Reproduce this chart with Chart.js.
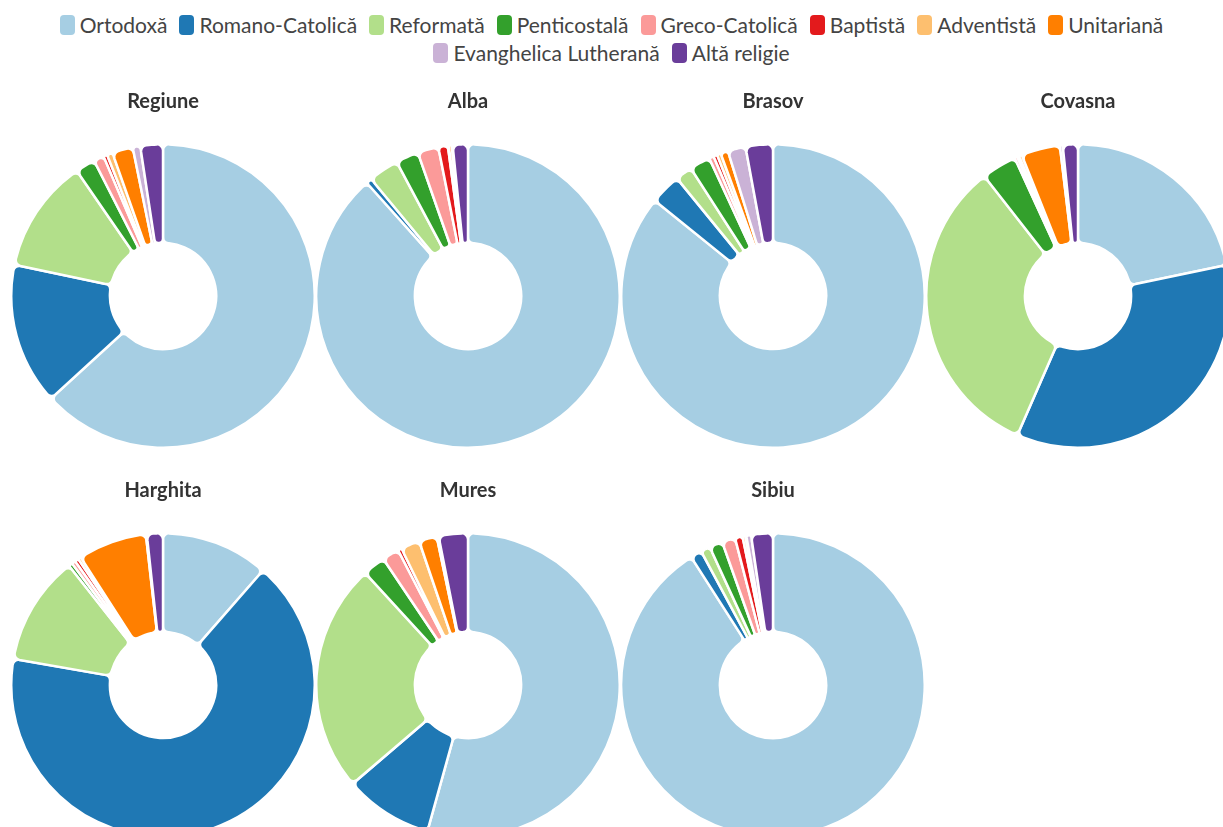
<!DOCTYPE html>
<html><head><meta charset="utf-8">
<script src="https://cdn.jsdelivr.net/npm/chart.js@4.4.1/dist/chart.umd.min.js"></script>
<style>
html,body{margin:0;padding:0;background:#fff;overflow:hidden;width:1223px;height:827px;}
#wrap{position:relative;width:1223px;height:827px;overflow:hidden;}
.legend-row{position:absolute;left:0;width:1223px;display:flex;justify-content:center;font-family:Lato,sans-serif;font-size:21px;color:#444;line-height:24px;}
.item{display:flex;align-items:center;margin:0 6px;white-space:nowrap;}
.box{width:15px;height:20px;border-radius:4px;margin-right:5px;display:inline-block;}
.cv{position:absolute;}
</style></head><body><div id="wrap"></div>
<script>
const religions = ['Ortodoxă','Romano-Catolică','Reformată','Penticostală','Greco-Catolică','Baptistă','Adventistă','Unitariană','Evanghelica Lutherană','Altă religie'];
const colors = ['#a6cee3','#1f78b4','#b2df8a','#33a02c','#fb9a99','#e31a1c','#fdbf6f','#ff7f00','#cab2d6','#6a3d9a'];
const regionNames = ['Regiune','Alba','Brasov','Covasna','Harghita','Mures','Sibiu'];

const regiune  = [63.2, 15.1, 12.1, 2.1, 1.1, 0.4, 0.6, 2.2, 0.8, 2.4];
const alba     = [87.5, 0.6, 3.2, 2.4, 2.2, 1.0, 0.1, 0.3, 0.1, 1.6];
const brasov   = [85.8, 3.3, 1.8, 2.2, 0.5, 0.4, 0.4, 0.8, 1.9, 2.9];
const covasna  = [21.6, 34.6, 32.7, 3.7, 0.3, 0.2, 0.3, 4.1, 0.3, 1.6];
const harghita = [11.4, 66.2, 11.6, 0.4, 0.4, 0.4, 0.3, 7.3, 0.1, 1.7];
const mures    = [54.2, 9.4, 24.4, 2.4, 1.8, 0.4, 2.0, 1.9, 0.2, 3.1];
const sibiu    = [90.4, 1.2, 1.0, 1.4, 1.4, 0.8, 0.3, 0.1, 0.5, 2.3];

const regionValues = [regiune, alba, brasov, covasna, harghita, mures, sibiu];

const wrap = document.getElementById('wrap');

// Legend (two rows)
const legendRows = [[0,8],[8,10]];
const legendTops = [13, 41];
legendRows.forEach((r, ri) => {
  const row = document.createElement('div');
  row.className = 'legend-row';
  row.style.top = legendTops[ri] + 'px';
  for (let i = r[0]; i < r[1]; i++) {
    const it = document.createElement('span');
    it.className = 'item';
    const b = document.createElement('span');
    b.className = 'box';
    b.style.background = colors[i];
    it.appendChild(b);
    it.appendChild(document.createTextNode(religions[i]));
    row.appendChild(it);
  }
  wrap.appendChild(row);
});

// Charts
const centersX = [163, 468, 773, 1078, 163, 468, 773];
const canvasTops = [80, 80, 80, 80, 469, 469, 469];
const size = 306;

regionValues.forEach((vals, i) => {
  const c = document.createElement('canvas');
  c.className = 'cv';
  c.width = size; c.height = size + 63;
  c.style.width = size + 'px'; c.style.height = (size + 63) + 'px';
  c.style.left = (centersX[i] - size/2) + 'px';
  c.style.top = canvasTops[i] + 'px';
  wrap.appendChild(c);
  new Chart(c, {
    type: 'doughnut',
    data: {
      labels: religions,
      datasets: [{
        data: vals,
        backgroundColor: colors,
        borderColor: '#ffffff',
        borderWidth: 2.5,
        borderRadius: 6
      }]
    },
    options: {
      responsive: false,
      animation: false,
      cutout: '35%',
      layout: {padding: 0},
      plugins: {
        legend: {display: false},
        tooltip: {enabled: false},
        title: {
          display: true,
          text: regionNames[i],
          color: '#333',
          font: {family: 'Lato', size: 20, weight: 'bold'},
          padding: {top: 10, bottom: 29}
        }
      }
    }
  });
});
</script>
</body></html>
